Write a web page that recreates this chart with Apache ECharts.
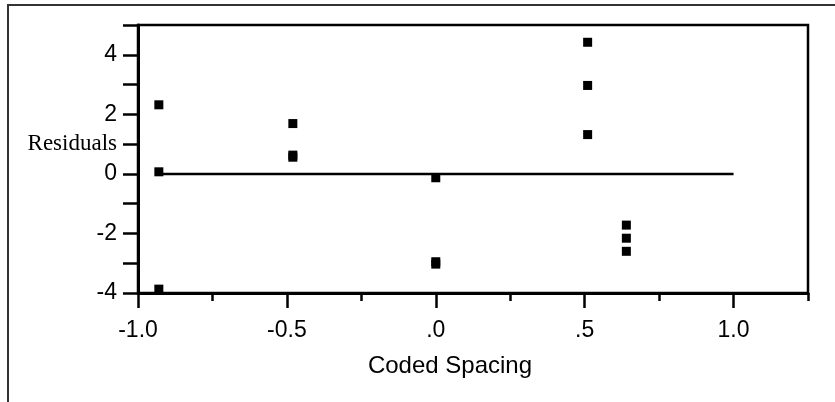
<!DOCTYPE html>
<html>
<head>
<meta charset="utf-8">
<script src="https://cdn.jsdelivr.net/npm/echarts@6/dist/echarts.min.js"></script>
<style>html,body{margin:0;padding:0;background:#fff;}#c{width:835px;height:402px;}</style>
</head>
<body>
<div id="c"></div>
<script>
const xCoded = [-0.93, -0.93, -0.93, -0.48, -0.48, -0.48, 0, 0, 0, 0.51, 0.51, 0.51, 0.64, 0.64, 0.64];
const residuals = [2.32, 0.07, -3.87, 1.69, 0.63, 0.56, -0.13, -2.95, -3.03, 4.42, 2.97, 1.32, -1.72, -2.16, -2.6];
const zeroLineX = [-0.93, 1.0];
const zeroLineY = [0, 0];
const xMajorTicks = [-1, -0.5, 0, 0.5, 1];
const xMinorTicks = [-0.75, -0.25, 0.25, 0.75, 1.25];
const xTickLabels = {"-1": "-1.0", "-0.5": "-0.5", "0": ".0", "0.5": ".5", "1": "1.0"};
const yTickLabels = {"4": "4", "2": "2", "1": "{r|Residuals}", "0": "0", "-2": "-2", "-4": "-4"};
const xTitle = "Coded Spacing";

const chart = echarts.init(document.getElementById('c'), null, {renderer: 'canvas'});
const pts = xCoded.map((x, i) => [x, residuals[i]]);
const line = zeroLineX.map((x, i) => [x, zeroLineY[i]]);
const sans = 'Liberation Sans';
chart.setOption({
  animation: false,
  backgroundColor: '#fff',
  graphic: [{
    type: 'rect', shape: {x: 8, y: 5, width: 860, height: 420}, z: 0,
    style: {fill: 'none', stroke: '#333', lineWidth: 2}
  }],
  grid: {left: 138, top: 25, right: 27, bottom: 109, show: true, borderColor: '#000', borderWidth: 2.5, backgroundColor: 'transparent'},
  xAxis: [{
    type: 'value', min: -1, max: 1.25, interval: 0.25, position: 'bottom',
    axisLine: {show: true, onZero: false, lineStyle: {color: '#000', width: 3}},
    axisTick: {show: true, customValues: xMajorTicks, length: 15, lineStyle: {color: '#000', width: 2.5}},
    axisLabel: {show: true, customValues: xMajorTicks, margin: 26, color: '#000', fontFamily: sans, fontSize: 23,
      formatter: v => xTickLabels[String(v)] || ''},
    splitLine: {show: false},
    name: xTitle, nameLocation: 'middle', nameGap: 61,
    nameTextStyle: {color: '#000', fontFamily: sans, fontSize: 24, padding: [0, 46, 0, 0]}
  }, {
    type: 'value', min: -1, max: 1.25, interval: 0.25, position: 'bottom', gridIndex: 0,
    axisLine: {show: false, onZero: false},
    axisTick: {show: true, customValues: xMinorTicks, length: 8, lineStyle: {color: '#000', width: 2.5}},
    axisLabel: {show: false},
    splitLine: {show: false}
  }],
  yAxis: {
    type: 'value', min: -4, max: 5, interval: 1,
    axisLine: {show: true, onZero: false, lineStyle: {color: '#000', width: 3}},
    axisTick: {show: true, length: 15, lineStyle: {color: '#000', width: 2.5}},
    axisLabel: {margin: 21, color: '#000', fontFamily: sans, fontSize: 23,
      formatter: v => yTickLabels[String(v)] || '',
      rich: {r: {fontFamily: 'Liberation Serif', fontSize: 23, color: '#000'}}},
    splitLine: {show: false}
  },
  series: [{
    type: 'line', data: line, showSymbol: false, symbol: 'none', silent: true,
    lineStyle: {color: '#000', width: 2.5}, z: 2
  }, {
    type: 'scatter', data: pts, symbol: 'rect', symbolSize: 9,
    itemStyle: {color: '#000', opacity: 1}, z: 3
  }]
});
</script>
</body>
</html>
